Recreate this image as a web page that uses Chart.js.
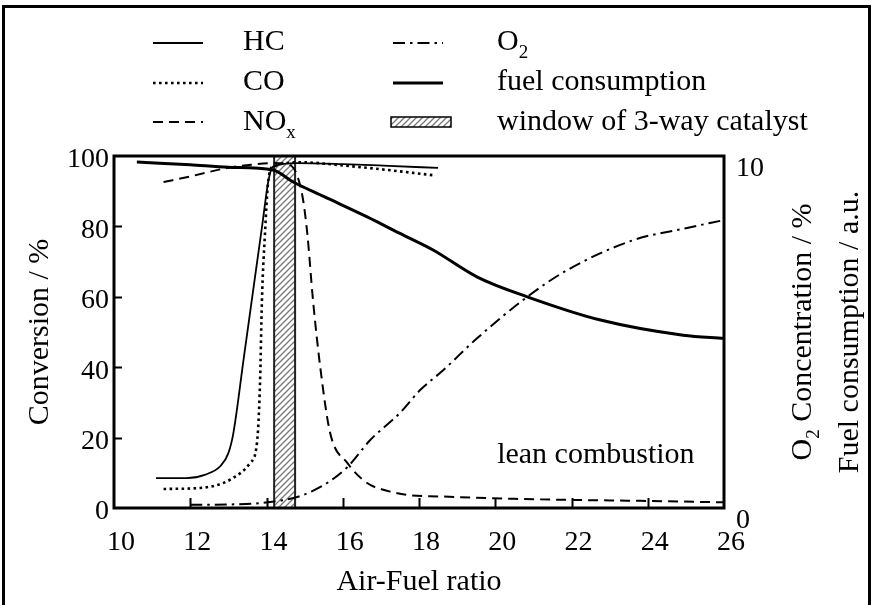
<!DOCTYPE html>
<html>
<head>
<meta charset="utf-8">
<script src="https://cdn.jsdelivr.net/npm/chart.js@4.4.1/dist/chart.umd.min.js"></script>
<style>
  body { margin: 0; background: #fff; }
  canvas { display: block; }
</style>
</head>
<body>
<canvas id="afrChart" width="872" height="605"></canvas>
<script>
// conversion curves (%), x = air-fuel ratio
const hcX = [11.1, 11.9, 12.4, 12.8, 13.0, 13.13, 13.4, 13.7, 13.9, 14.05, 14.17, 14.8, 16, 17.2, 18.5];
const hcY = [8.5, 8.5, 9.5, 12, 15.6, 21.2, 42.3, 65.7, 81.3, 93, 97, 98, 97.7, 97.2, 96.6];

const coX = [11.3, 12.25, 12.7, 13.12, 13.57, 13.75, 13.83, 13.88, 13.96, 14.04, 14.17, 14.95, 16, 17.2, 18.4];
const coY = [5.4, 5.7, 6.5, 8.5, 12.8, 18.5, 35.5, 59, 78, 92.3, 97, 98.2, 97.3, 96, 94.5];

const noxX = [11.3, 12, 12.97, 13.6, 14.17, 14.6, 14.8, 14.96, 15.07, 15.22, 15.41, 15.67, 16.12, 16.64, 17.2, 17.77, 18.5, 19.5, 20.5, 22, 24, 26];
const noxY = [92.6, 94.2, 96.6, 97.5, 98, 97.5, 94.6, 87.5, 78, 59, 40, 21.3, 12.8, 7.1, 4.8, 3.6, 3.3, 2.9, 2.6, 2.3, 2.0, 1.6];

// right axis (0-10): O2 concentration and fuel consumption
const o2X = [12, 13, 13.83, 14.8, 15.2, 15.59, 16.12, 16.72, 17.5, 18.03, 18.64, 19.5, 20.84, 21.89, 23.62, 25, 26];
const o2Y = [0.09, 0.1, 0.14, 0.31, 0.48, 0.71, 1.16, 1.93, 2.7, 3.35, 3.92, 4.8, 6.0, 6.76, 7.61, 7.95, 8.18];

const fuelX = [10.6, 12, 13, 14.17, 14.7, 15.5, 16.64, 17.5, 18.37, 19.53, 20.84, 22.76, 24.93, 26];
const fuelY = [9.83, 9.75, 9.68, 9.6, 9.26, 8.85, 8.27, 7.8, 7.33, 6.56, 6.0, 5.34, 4.91, 4.82];

// window of the 3-way catalyst (air-fuel ratio range)
const windowX = [14.2, 14.75];

const xTicks = [10, 12, 14, 16, 18, 20, 22, 24, 26];
const yTicks = [0, 20, 40, 60, 80, 100];

const serif = '"Liberation Serif", "Times New Roman", serif';

function pts(xs, ys) {
  return xs.map((x, i) => ({ x: x, y: ys[i] }));
}

// diagonal hatch for the catalyst window
const pc = document.createElement('canvas');
pc.width = 6; pc.height = 6;
const pctx = pc.getContext('2d');
pctx.strokeStyle = '#777';
pctx.lineWidth = 1.3;
pctx.beginPath();
pctx.moveTo(0, 6); pctx.lineTo(6, 0);
pctx.moveTo(-1, 1); pctx.lineTo(1, -1);
pctx.moveTo(5, 7); pctx.lineTo(7, 5);
pctx.stroke();
const hatch = pctx.createPattern(pc, 'repeat');

// draw text with subscripts: parts = [[text, isSub], ...]
function drawParts(ctx, parts, x, y, size) {
  let cx = x;
  parts.forEach(p => {
    ctx.font = (p[1] ? Math.round(size * 0.62) : size) + 'px ' + serif;
    ctx.fillText(p[0], cx, p[1] ? y + size * 0.28 : y);
    cx += ctx.measureText(p[0]).width;
  });
}
function partsWidth(ctx, parts, size) {
  let w = 0;
  parts.forEach(p => {
    ctx.font = (p[1] ? Math.round(size * 0.62) : size) + 'px ' + serif;
    w += ctx.measureText(p[0]).width;
  });
  return w;
}

const extras = {
  id: 'extras',
  afterDraw(chart) {
    const ctx = chart.ctx;
    const a = chart.chartArea;
    const xs = chart.scales.x, ys = chart.scales.y;
    const ds = chart.data.datasets;
    ctx.save();
    ctx.strokeStyle = '#000';
    ctx.fillStyle = '#000';

    // figure border
    ctx.lineWidth = 3;
    ctx.beginPath();
    ctx.moveTo(3.5, 605); ctx.lineTo(3.5, 6.5); ctx.lineTo(869.5, 6.5); ctx.lineTo(869.5, 605);
    ctx.stroke();

    // plot frame
    ctx.strokeRect(a.left, a.top, a.right - a.left, a.bottom - a.top);

    // inward tick marks
    ctx.lineWidth = 2;
    ctx.beginPath();
    xTicks.slice(1, -1).forEach(v => {
      const px = Math.round(xs.getPixelForValue(v)) + 0.5;
      ctx.moveTo(px, a.bottom); ctx.lineTo(px, a.bottom - 10);
    });
    yTicks.slice(1, -1).forEach(v => {
      const py = Math.round(ys.getPixelForValue(v)) + 0.5;
      ctx.moveTo(a.left, py); ctx.lineTo(a.left + 8, py);
    });
    ctx.stroke();

    // legend
    const size = 30;
    ctx.textBaseline = 'alphabetic';
    const items = [
      { d: 0, x: 153, y: 43, tx: 243, ty: 50, parts: [['HC', false]] },
      { d: 1, x: 153, y: 83, tx: 243, ty: 90, parts: [['CO', false]] },
      { d: 2, x: 153, y: 122, tx: 243, ty: 130, parts: [['NO', false], ['x', true]] },
      { d: 3, x: 393, y: 43, tx: 497, ty: 50, parts: [['O', false], ['2', true]] },
      { d: 4, x: 393, y: 83, tx: 497, ty: 90, parts: [['fuel consumption', false]] },
      { d: 5, x: 391, y: 122, tx: 497, ty: 130, parts: [['window of 3-way catalyst', false]] }
    ];
    items.forEach(it => {
      const d = ds[it.d];
      if (it.d === 5) {
        ctx.fillStyle = hatch;
        ctx.fillRect(it.x, it.y - 5, 60, 10);
        ctx.fillStyle = '#000';
        ctx.lineWidth = 1.5;
        ctx.setLineDash([]);
        ctx.strokeRect(it.x, it.y - 5, 60, 10);
      } else {
        ctx.lineWidth = d.borderWidth;
        ctx.setLineDash(d.borderDash || []);
        ctx.beginPath();
        ctx.moveTo(it.x, it.y); ctx.lineTo(it.x + 50, it.y);
        ctx.stroke();
      }
      ctx.setLineDash([]);
      drawParts(ctx, it.parts, it.tx, it.ty, size);
    });

    // annotation
    ctx.font = size + 'px ' + serif;
    ctx.fillText('lean combustion', xs.getPixelForValue(20.05), ys.getPixelForValue(12.8));

    // right axis titles (read bottom to top)
    const titles = [
      { cx: 801, parts: [['O', false], ['2', true], [' Concentration / %', false]] },
      { cx: 848, parts: [['Fuel consumption / a.u.', false]] }
    ];
    const cy = (a.top + a.bottom) / 2;
    titles.forEach(t => {
      ctx.save();
      ctx.translate(t.cx, cy);
      ctx.rotate(-Math.PI / 2);
      const w = partsWidth(ctx, t.parts, size);
      drawParts(ctx, t.parts, -w / 2, 10, size);
      ctx.restore();
    });
    ctx.restore();
  }
};

const lineBase = { fill: false, pointRadius: 0, borderColor: '#000', cubicInterpolationMode: 'monotone' };

new Chart(document.getElementById('afrChart'), {
  type: 'line',
  data: {
    datasets: [
      Object.assign({ label: 'HC', data: pts(hcX, hcY), borderWidth: 1.8, yAxisID: 'y' }, lineBase),
      Object.assign({ label: 'CO', data: pts(coX, coY), borderWidth: 2.6, borderDash: [2.6, 3.4], yAxisID: 'y' }, lineBase),
      Object.assign({ label: 'NOx', data: pts(noxX, noxY), borderWidth: 2, borderDash: [10, 6], yAxisID: 'y' }, lineBase),
      Object.assign({ label: 'O2', data: pts(o2X, o2Y), borderWidth: 2, borderDash: [12, 5, 2.5, 5], yAxisID: 'y1' }, lineBase),
      Object.assign({ label: 'fuel consumption', data: pts(fuelX, fuelY), borderWidth: 3, yAxisID: 'y1' }, lineBase),
      {
        label: 'window of 3-way catalyst',
        data: [
          { x: windowX[0], y: 0 }, { x: windowX[0], y: 100 },
          { x: windowX[1], y: 100 }, { x: windowX[1], y: 0 }
        ],
        yAxisID: 'y',
        borderColor: '#222',
        borderWidth: 2,
        backgroundColor: hatch,
        fill: 'origin',
        pointRadius: 0,
        tension: 0
      }
    ]
  },
  options: {
    responsive: false,
    devicePixelRatio: 1,
    animation: false,
    layout: { padding: { top: 156, left: 0, right: 0, bottom: 0 } },
    plugins: { legend: { display: false }, tooltip: { enabled: false } },
    scales: {
      x: {
        type: 'linear',
        min: 10, max: 26,
        afterFit: s => { s.height = 97; },
        grid: { display: false, drawTicks: false },
        border: { display: false },
        ticks: { stepSize: 2, padding: 18, labelOffset: 7, maxRotation: 0, color: '#000', font: { family: serif, size: 28 } },
        title: { display: true, text: 'Air-Fuel ratio', color: '#000', font: { family: serif, size: 30 }, padding: { top: 0, bottom: 5 } }
      },
      y: {
        position: 'left',
        min: 0, max: 100,
        afterFit: s => { s.width = 114; },
        grid: { display: false, drawTicks: false },
        border: { display: false },
        ticks: { stepSize: 20, padding: 5, labelOffset: 4, color: '#000', font: { family: serif, size: 28 } },
        title: { display: true, text: 'Conversion / %', color: '#000', font: { family: serif, size: 30 }, padding: { top: 22, bottom: 0 } }
      },
      y1: {
        position: 'right',
        min: 0, max: 10,
        afterFit: s => { s.width = 148; },
        grid: { display: false, drawTicks: false },
        border: { display: false },
        ticks: { stepSize: 10, padding: 12, labelOffset: 13, color: '#000', font: { family: serif, size: 28 } }
      }
    }
  },
  plugins: [extras]
});
</script>
</body>
</html>
